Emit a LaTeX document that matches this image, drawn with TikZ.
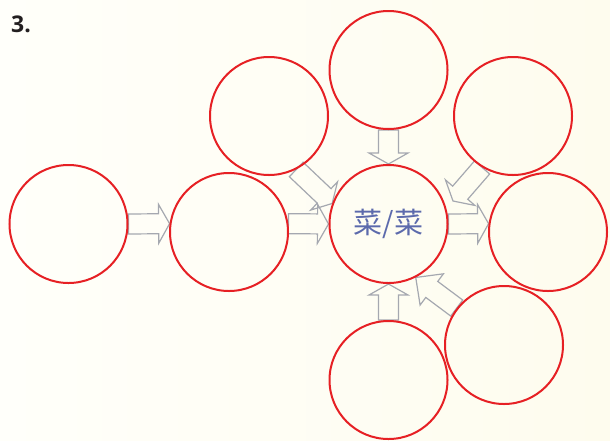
\documentclass[tikz,border=0pt]{standalone}
\usepackage{fontspec}
\newfontfamily\numfont{Open Sans}
\newfontfamily\cjk{Noto Sans CJK SC}
\usetikzlibrary{calc}
\definecolor{ringred}{RGB}{230,32,36}
\definecolor{arrgray}{RGB}{165,168,176}
\definecolor{txtblue}{RGB}{92,106,172}
\definecolor{bgleft}{RGB}{255,255,250}
\definecolor{bgright}{RGB}{254,252,238}
\definecolor{numblack}{RGB}{35,31,32}
\pgfdeclarelayer{back}
\pgfdeclarelayer{arr}
\pgfsetlayers{back,arr,main}
\tikzset{
  ring/.style={circle, draw=ringred, line width=2pt, minimum size=118pt, inner sep=0pt},
  blockarr/.style={draw=arrgray, line width=1.2pt, line join=miter},
}
\newcommand{\blkarrow}[3][11pt]{%
  \coordinate (ha) at ($(#3)!#1!(#2)$);
  \draw[blockarr] ($(#2)!10pt!90:(#3)$) -- ($(ha)!10pt!-90:(#2)$) -- ($(ha)!19.5pt!-90:(#2)$) -- (#3) -- ($(ha)!19.5pt!90:(#2)$) -- ($(ha)!10pt!90:(#2)$) -- ($(#2)!10pt!-90:(#3)$) -- cycle;
}
\begin{document}
\begin{tikzpicture}[x=1pt,y=-1pt]
\useasboundingbox (0,0) rectangle (610,440);
\begin{pgfonlayer}{back}
\shade[left color=bgleft,right color=bgright] (0,0) rectangle (610,440);
\end{pgfonlayer}
\node[ring] (L) at (68.5,224) {};
\node[ring] (B2) at (229,232) {};
\node[ring] (TL) at (269,116) {};
\node[ring] (T) at (388.5,70) {};
\node[ring] (TR) at (513,116) {};
\node[ring, text=txtblue, font=\cjk\fontsize{29}{29}\selectfont] (C) at (388.5,224) {菜/菜};
\node[ring] (R) at (548,232) {};
\node[ring] (BR) at (504,345) {};
\node[ring] (B) at (388.5,380) {};
\node[anchor=base west, font=\numfont\bfseries\fontsize{23}{23}\selectfont, text=numblack, inner sep=0pt] (num) at (11,32.5) {3.};
\coordinate (t5) at (453,201);
\begin{pgfonlayer}{arr}
\blkarrow{L.0}{B2.172}
\blkarrow{B2.8}{C.180}
\blkarrow{T.-90}{C.90}
\blkarrow{TL.-63}{C.160}
\blkarrow{TR.-121}{t5}
\blkarrow{C.0}{R.172}
\blkarrow{B.90}{C.-90}
\blkarrow[20pt]{BR.142}{C.-63}
\end{pgfonlayer}
\end{tikzpicture}
\end{document}
